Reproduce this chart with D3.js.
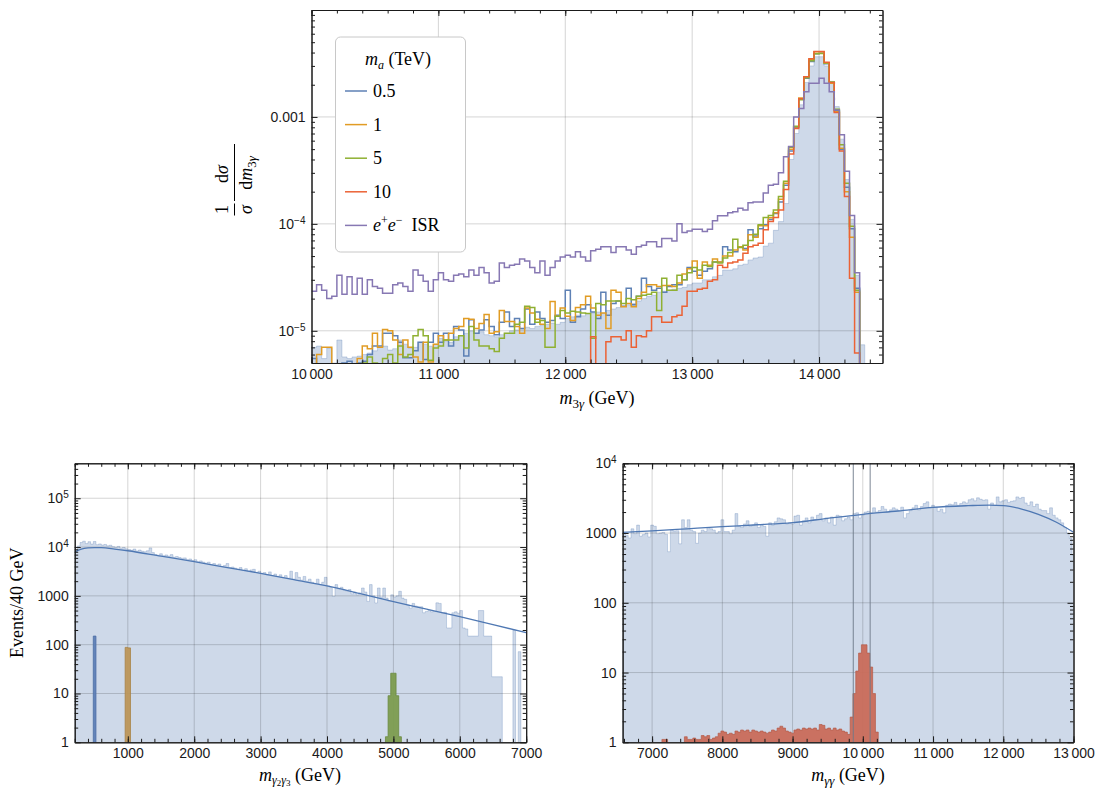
<!DOCTYPE html>
<html>
<head>
<meta charset="utf-8">
<script src="https://cdn.jsdelivr.net/npm/d3@7"></script>
<style>
  body { margin: 0; background: #fff; }
  text { font-family: "Liberation Sans", Arial, sans-serif; }
  .serif text, text.serif { font-family: "Liberation Serif", "Times New Roman", serif; }
</style>
</head>
<body>
<svg id="chart" width="1096" height="789"></svg>
<script>
// ---------- top panel: 1/sigma dsigma/dm_3gamma, 40 GeV bins starting at 10 TeV ----------
// values are in units of 1e-5 per GeV, 0 = empty bin
const topBinStart = 10000
const topBinWidth = 40
const topUnit = 1e-5
const topBackground = [
  0.7, 0.72, 0.55, 0.69, 0.5, 0.82, 0.57, 0.55, 0.57, 0.58,
  0.6, 0.62, 0.65, 0.7, 0.72, 0.66, 0.68, 0.82, 0.75, 0.69,
  0.7, 0.78, 0.75, 0.72, 0.75, 0.85, 0.8, 0.78, 0.88, 0.9,
  0.95, 1.0, 0.95, 0.98, 0.92, 0.9, 0.88, 0.92, 0.95, 1.0,
  1.02, 1.05, 1.08, 1.05, 1.1, 1.12, 1.15, 1.18, 1.15, 1.2,
  1.3, 1.35, 1.4, 1.38, 1.45, 1.47, 1.5, 1.45, 1.55, 1.6,
  1.65, 1.7, 1.75, 1.8, 1.9, 2.0, 2.1, 2.15, 2.3, 2.35,
  2.4, 2.45, 2.5, 2.55, 2.7, 2.8, 2.8, 3.0, 3.0, 3.2,
  3.3, 3.7, 3.7, 3.8, 4.1, 4.2, 4.6, 4.8, 4.9, 6.2,
  6.6, 8.7, 10.5, 15.5, 40, 70, 130, 210, 300, 366,
  366, 300, 215, 125, 62, 26, 11, 3.3, 0.74
]
const topM05 = [
  0.55, 0, 0, 0, 0, 0, 0.5, 0.52, 0.45, 0.5,
  0.52, 0.6, 0.72, 0.72, 0.95, 0.95, 0.9, 0.78, 0.56, 0.56,
  0.65, 0.78, 0.54, 0.78, 0.95, 0.78, 0.95, 0.72, 1.1, 1.02,
  0.58, 1.27, 0.95, 1.02, 1.27, 1.1, 0.92, 1.2, 1.5, 1.1,
  1.3, 1.05, 1.6, 1.15, 1.5, 1.3, 1.2, 1.25, 1.4, 1.3,
  2.4, 1.2, 1.35, 1.6, 1.75, 1.5, 1.3, 2.3, 1.4, 1.8,
  1.9, 1.7, 2.5, 1.75, 2.1, 3.1, 2.6, 2.4, 2.5, 2.3,
  2.6, 2.7, 2.7, 3.0, 3.9, 3.6, 3.3, 3.6, 3.8, 4.4,
  4.4, 6.1, 5.7, 5.5, 6.1, 5.9, 8.8, 7.7, 9.0, 9.8,
  11.0, 12.5, 16, 23, 48, 80, 148, 230, 330, 390,
  395, 315, 210, 115, 50, 22, 9, 2.5, 0
]
const topM1 = [
  0, 0.6, 0.7, 0.7, 0, 0, 0, 0, 0, 0.55,
  0.72, 0.68, 0.95, 0.7, 1.03, 1.0, 0.82, 0.6, 0.82, 0.7,
  0.57, 0.51, 0.78, 0.51, 0.75, 0.9, 0.82, 0.95, 1.05, 1.1,
  1.3, 1.28, 1.05, 1.17, 1.42, 0.95, 0.98, 1.55, 1.22, 1.22,
  1.1, 0.95, 1.63, 1.47, 1.28, 1.15, 1.05, 1.88, 1.37, 1.63,
  1.37, 1.25, 1.65, 1.75, 2.1, 1.63, 1.4, 1.47, 1.05, 2.4,
  2.3, 1.68, 1.8, 1.68, 2.0, 2.3, 2.7, 2.7, 2.6, 2.65,
  2.65, 2.6, 2.8, 3.4, 3.8, 4.5, 3.1, 4.4, 4.1, 4.7,
  4.4, 5.0, 5.0, 5.7, 6.1, 5.7, 7.9, 7.5, 9.6, 9.6,
  11.4, 12.7, 17, 24, 50, 81, 150, 238, 346, 407,
  407, 318, 206, 112, 51, 20, 7.5, 2.3, 0
]
const topM5 = [
  0, 0, 0, 0, 0, 0, 0, 0, 0, 0.45,
  0.5, 0.57, 0.5, 0.45, 0.55, 0.6, 0.5, 0.72, 0.57, 0.6,
  0.9, 1.03, 0.9, 0.53, 0.69, 0.72, 0.82, 0.82, 0.82, 0.9,
  0.69, 1.1, 0.82, 0.72, 0.72, 0.68, 0.64, 0.85, 0.95, 0.95,
  1.15, 1.2, 1.7, 1.65, 1.2, 1.25, 0.7, 0.7, 1.37, 1.55,
  1.47, 1.52, 1.5, 1.47, 1.45, 0.85, 1.8, 1.75, 1.9, 1.9,
  1.9, 1.8, 2.0, 1.95, 2.1, 2.15, 2.2, 2.3, 1.55, 3.1,
  2.4, 2.4, 3.3, 3.0, 3.5, 3.9, 3.7, 4.1, 4.0, 4.4,
  4.3, 4.8, 5.4, 7.2, 6.0, 6.3, 7.0, 8.0, 9.8, 11.5,
  12.0, 13.5, 18, 25, 52, 82, 145, 232, 335, 390,
  392, 320, 212, 118, 55, 24, 9.5, 2.4, 0
]
// m_a = 10 TeV is empty below 12.16 TeV
const topM10Start = 12160
const topM10 = [
  0, 0.88, 0, 0, 0.79, 0.88,
  0.88, 0.82, 1.0, 0.7, 0.9, 0.88, 1.0, 1.35, 1.35, 1.2,
  1.2, 1.35, 1.4, 1.7, 2.35, 2.35, 2.45, 2.5, 2.9, 3.0,
  4.1, 3.9, 4.3, 4.4, 4.6, 5.3, 6.1, 6.3, 6.6, 8.8,
  10.5, 11.5, 13.5, 21, 45, 78, 148, 238, 350, 410,
  410, 325, 210, 110, 48, 18, 3.1, 0.62, 0
]
const topISR = [
  2.35, 2.7, 2.4, 2.0, 2.1, 3.3, 2.2, 3.2, 2.2, 3.1,
  2.2, 3.0, 2.6, 2.5, 2.25, 2.25, 2.7, 2.8, 2.6, 2.35,
  3.7, 3.3, 2.9, 2.35, 3.0, 3.5, 3.0, 2.9, 3.3, 3.4,
  3.2, 3.7, 3.3, 3.9, 3.5, 2.8, 2.9, 4.3, 3.9, 4.1,
  4.2, 4.7, 4.5, 3.9, 3.5, 4.5, 3.3, 3.9, 4.5, 4.9,
  5.1, 4.9, 5.5, 4.9, 4.5, 5.6, 5.8, 6.1, 6.1, 5.4,
  6.1, 6.1, 5.7, 5.2, 6.1, 6.3, 6.8, 6.8, 6.1, 7.3,
  7.3, 6.9, 10.0, 8.3, 8.6, 8.9, 8.9, 8.5, 8.9, 10.7,
  11.9, 11.9, 12.7, 13.0, 14.0, 13.5, 15.8, 16.0, 16.0, 19.4,
  23, 23.5, 30, 42.5, 53, 100, 120, 172, 206, 206,
  230, 206, 172, 116, 68, 31, 12, 3.5, 0
]
const seriesColors = ['#5E81B5', '#E19C24', '#8FB032', '#EB6235', '#8778B3']
const legendLabels = ['0.5', '1', '5', '10', 'ISR']

// ---------- bottom left: m_{γ2γ3}, events / 40 GeV from 200 GeV ----------
const blBinStart = 200
const blBinWidth = 40
const blBackground = [
  8000, 10500, 12400, 13200, 11800, 12900, 11500, 13000, 11200, 11600,
  11000, 11300, 10600, 10900, 10200, 9900, 10300, 9500, 9800, 9200,
  8900, 8600, 9100, 8300, 8700, 8200, 8000, 8400, 9600, 7700,
  7000, 6800, 7300, 6600, 6900, 6500, 7000, 6200, 6400, 6100,
  5900, 6000, 5500, 5700, 5300, 5500, 5000, 5200, 4900, 4700,
  4900, 4400, 4600, 4300, 4500, 4000, 4200, 4600, 3800, 3900,
  3700, 3500, 3800, 3300, 3600, 3200, 3400, 3500, 3000, 3200,
  2900, 3000, 2700, 3100, 2600, 2800, 2500, 2700, 2400, 2600,
  2300, 3200, 2200, 3000, 2400, 2100, 2500, 2000, 2200, 1900,
  1800, 2200, 1700, 1900, 2400, 1600, 1500, 980, 1700, 1400,
  1500, 1300, 1250, 1350, 1100, 1200, 1050, 1150, 1450, 1200,
  770, 1700, 1000, 715, 1450, 950, 1450, 900, 770, 1050,
  950, 1000, 1240, 900, 850, 650, 560, 700, 620, 600,
  600, 450, 480, 500, 470, 480, 720, 700, 450, 460,
  220, 220, 450, 470, 440, 500, 220, 210, 150, 150,
  150, 150, 500, 500, 150, 150, 150, 22, 22, 22,
  22, 0, 0, 0, 0, 200, 0, 72, 0, 0
]
const blFit = [
  [200, 8000], [300, 9100], [400, 9600], [500, 9750], [600, 9700], [800, 9100],
  [1000, 8400], [1500, 6500], [2000, 5020], [2500, 3800], [3000, 2900], [3500, 2150],
  [4000, 1600], [4500, 1110], [5000, 760], [5500, 535], [6000, 375], [6500, 258], [7000, 176]
]
const blSig05Start = 480, blSig05 = [150]
const blSig1Start = 960, blSig1 = [88, 86]
const blSig5Start = 4880, blSig5 = [1.3, 9, 26, 26, 9, 1.3]

// ---------- bottom right: m_{γγ}, 40 GeV bins from 6580 GeV ----------
const brBinStart = 6580
const brBinWidth = 40
const brBackground = [
  1000, 920, 850, 1150, 980, 1300, 900, 950, 1000, 880,
  1300, 1250, 980, 1000, 1020, 960, 540, 1100, 1070, 1080,
  700, 1550, 1200, 1550, 1100, 1050, 713, 1000, 1100, 1050,
  1200, 1150, 1100, 1000, 1050, 1550, 1050, 1050, 980, 1100,
  1900, 1250, 1200, 1350, 1500, 1250, 1300, 1400, 1200, 1300,
  1250, 900, 1400, 1300, 1450, 1650, 1600, 1550, 1350, 1400,
  1350, 1750, 1800, 1300, 1500, 1650, 1400, 1700, 1550, 1800,
  1900, 1500, 1650, 1400, 1700, 1300, 1800, 1750, 1500, 1600,
  1700, 1550, 1900, 1950, 1650, 1800, 2000, 2050, 1950, 2300,
  2000, 2100, 2400, 2200, 2000, 2150, 2300, 2200, 2100, 2350,
  1650, 1900, 2100, 2300, 2500, 2150, 2400, 2650, 2800, 2300,
  2500, 2350, 2050, 2200, 1950, 2500, 2600, 2550, 2750, 2500,
  2650, 2800, 2700, 3000, 3100, 2900, 3200, 3050, 2950, 3000,
  2200, 2700, 2500, 3300, 2800, 2900, 3000, 2750, 2850, 2900,
  3300, 3150, 3250, 2700, 2500, 2800, 2400, 2600, 2200, 2100,
  2100, 1900, 2300, 1800, 1650, 1550, 1400, 1200, 1000, 840,
  480
]
const brFit = [
  [6580, 1025], [7000, 1072], [7500, 1150], [8000, 1234], [8500, 1315], [9000, 1410],
  [9500, 1625], [10000, 1855], [10500, 2070], [11000, 2335], [11500, 2470], [11800, 2520],
  [12000, 2480], [12250, 2230], [12500, 1855], [12750, 1440], [13000, 1025]
]
const brSigStart = 7140
const brSig10 = [
  1.1, 1.1, 0, 0, 0, 0, 0, 0, 1.2, 1.1,
  1.1, 1.15, 1.1, 1.1, 1.25, 1.2, 1.25, 1.1, 1.15, 1.2,
  1.35, 1.45, 1.4, 1.3, 1.35, 1.3, 1.45, 1.4, 1.5, 1.45,
  1.5, 1.4, 1.5, 1.45, 1.4, 1.45, 1.4, 1.35, 1.4, 1.5,
  1.45, 1.6, 1.7, 1.6, 1.45, 1.4, 1.35, 1.5, 1.55, 1.5,
  1.6, 1.55, 1.6, 1.55, 1.6, 1.5, 1.8, 1.75, 1.55, 1.6,
  1.5, 1.6, 1.5, 1.55, 1.45, 1.4, 1.3, 2.3, 5.0, 10.5,
  19, 25, 25, 19, 12, 5, 1.4
]
const brWindow = [9865, 10105]

// ---------------------------------------------------------------------------
const svg = d3.select('#chart')
const defs = svg.append('defs')
const histBlue = '#5E81B5'

function panel(id, box, xDomain, yDomain) {
  const x = d3.scaleLinear().domain(xDomain).range([box.left, box.right])
  const y = d3.scaleLog().domain(yDomain).range([box.bottom, box.top])
  defs.append('clipPath').attr('id', id).append('rect')
    .attr('x', box.left).attr('y', box.top)
    .attr('width', box.right - box.left).attr('height', box.bottom - box.top)
  const g = svg.append('g')
  const back = g.append('g').attr('clip-path', `url(#${id})`)
  const grid = g.append('g')
  const plot = g.append('g').attr('clip-path', `url(#${id})`)
  const axes = g.append('g')
  return { x, y, box, back, grid, plot, axes }
}

function yPix(p, v) { return v > 0 ? p.y(v) : p.box.bottom + 6 }

function binPoints(start, width, vals, k = 1) {
  const pts = vals.map((v, i) => [start + i * width, v * k])
  pts.push([start + vals.length * width, vals[vals.length - 1] * k])
  return pts
}

function histArea(p, layer, pts, fill, fillOpacity, edge, edgeOpacity) {
  const area = d3.area().curve(d3.curveStepAfter)
    .x(d => p.x(d[0])).y0(p.box.bottom + 6).y1(d => yPix(p, d[1]))
  layer.append('path').attr('d', area(pts))
    .attr('fill', fill).attr('fill-opacity', fillOpacity)
    .attr('stroke', edge).attr('stroke-opacity', edgeOpacity).attr('stroke-width', 1)
}

function histLine(p, pts, color) {
  const line = d3.line().curve(d3.curveStepAfter)
    .x(d => p.x(d[0])).y(d => yPix(p, d[1]))
  p.plot.append('path').attr('d', line(pts))
    .attr('fill', 'none').attr('stroke', color).attr('stroke-width', 1.5)
    .attr('stroke-linejoin', 'miter')
}

function gridLines(p, xs, ys) {
  const { x, y, box } = p
  p.grid.selectAll('.gx').data(xs).join('line')
    .attr('x1', d => x(d)).attr('x2', d => x(d)).attr('y1', box.top).attr('y2', box.bottom)
  p.grid.selectAll('.gy').data(ys).join('line')
    .attr('y1', d => y(d)).attr('y2', d => y(d)).attr('x1', box.left).attr('x2', box.right)
  p.grid.selectAll('line').attr('stroke', '#000').attr('stroke-opacity', 0.17).attr('stroke-width', 1)
}

function superscripts(sel) {
  sel.selectAll('.tick text').each(function () {
    const t = d3.select(this)
    const m = t.text().match(/^10\^(.+)$/)
    if (m) {
      t.text('10')
      t.append('tspan').attr('dy', '-0.5em').attr('font-size', '10px').text(m[1])
    }
  })
}

function frame(p, xMajor, xMinor, xFmt, yMajor, yFmt) {
  const { x, y, box, axes } = p
  const yMinor = y.ticks().filter(v => Math.abs(Math.log10(v) - Math.round(Math.log10(v))) > 1e-6)
  const add = (axis, tx, ty) => axes.append('g')
    .attr('transform', `translate(${tx},${ty})`)
    .call(axis.tickSizeOuter(0))
    .attr('font-size', 14)
    .attr('font-family', '"Liberation Sans", Arial, sans-serif')
    .style('color', '#1a1a1a')
  add(d3.axisBottom(x).tickValues(xMinor).tickSize(-3.5).tickFormat(''), 0, box.bottom)
  add(d3.axisTop(x).tickValues(xMinor).tickSize(-3.5).tickFormat(''), 0, box.top)
  add(d3.axisLeft(y).tickValues(yMinor).tickSize(-3.5).tickFormat(''), box.left, 0)
  add(d3.axisRight(y).tickValues(yMinor).tickSize(-3.5).tickFormat(''), box.right, 0)
  add(d3.axisBottom(x).tickValues(xMajor).tickSize(-6).tickPadding(6).tickFormat(xFmt), 0, box.bottom)
  add(d3.axisTop(x).tickValues(xMajor).tickSize(-6).tickFormat(''), 0, box.top)
  add(d3.axisLeft(y).tickValues(yMajor).tickSize(-6).tickPadding(6).tickFormat(yFmt), box.left, 0)
    .call(superscripts)
  add(d3.axisRight(y).tickValues(yMajor).tickSize(-6).tickFormat(''), box.right, 0)
}

const groupFmt = d => d >= 10000 ? d3.format(',')(d).replace(',', '\u2009') : String(d)
const powFmt = d => d < 10000 && d >= 1 ? String(d) : '10^' + String(Math.round(Math.log10(d))).replace('-', '\u2212')

// sub-/superscript label helper: parts = [[text, {italic, size, dy}], ...]
function richText(sel, parts) {
  parts.forEach(([s, o = {}]) => {
    const t = sel.append('tspan').text(s)
    if (o.italic) t.attr('font-style', 'italic')
    if (o.size) t.attr('font-size', o.size)
    if (o.dy) t.attr('dy', o.dy)
  })
  return sel
}

// ============================== top panel ==============================
{
  const p = panel('clipTop', { left: 311.5, right: 882.5, top: 10, bottom: 363 }, [10000, 14500], [5e-6, 1e-2])
  histArea(p, p.back, binPoints(topBinStart, topBinWidth, topBackground, topUnit), histBlue, 0.3, histBlue, 0.3)
  gridLines(p, [11000, 12000, 13000, 14000], [1e-5, 1e-4, 1e-3])
  histLine(p, binPoints(topBinStart, topBinWidth, topM05, topUnit), seriesColors[0])
  histLine(p, binPoints(topBinStart, topBinWidth, topM1, topUnit), seriesColors[1])
  histLine(p, binPoints(topBinStart, topBinWidth, topM5, topUnit), seriesColors[2])
  histLine(p, binPoints(topM10Start, topBinWidth, topM10, topUnit), seriesColors[3])
  histLine(p, binPoints(topBinStart, topBinWidth, topISR, topUnit), seriesColors[4])
  frame(p, [10000, 11000, 12000, 13000, 14000], d3.range(10000, 14501, 200), groupFmt,
    [1e-5, 1e-4, 1e-3], d => d === 1e-3 ? '0.001' : powFmt(d))

  // legend
  const lg = svg.append('g').attr('class', 'serif').attr('font-size', 18)
  lg.append('rect').attr('x', 335.5).attr('y', 37).attr('width', 130).attr('height', 215)
    .attr('rx', 5).attr('fill', '#fff').attr('stroke', '#c8c8c8')
  richText(lg.append('text').attr('x', 398).attr('y', 65).attr('text-anchor', 'middle'),
    [['m', { italic: true }], ['a', { italic: true, size: 12, dy: 4 }], [' (TeV)', { dy: -4 }]])
  legendLabels.forEach((lab, i) => {
    const ly = 91 + i * 33.6
    lg.append('line').attr('x1', 345).attr('x2', 367).attr('y1', ly).attr('y2', ly)
      .attr('stroke', seriesColors[i]).attr('stroke-width', 1.5)
    const t = lg.append('text').attr('x', 373).attr('y', ly + 6)
    if (lab === 'ISR') {
      richText(t, [['e', { italic: true }], ['+', { size: 12, dy: -7 }], ['e', { italic: true, dy: 7 }],
        ['\u2212', { size: 12, dy: -7 }], ['\u2002ISR', { dy: 7 }]])
    } else t.text(lab)
  })

  // axis titles
  richText(svg.append('text').attr('class', 'serif').attr('font-size', 18)
    .attr('x', 597).attr('y', 404).attr('text-anchor', 'middle'),
    [['m', { italic: true }], ['3', { size: 13, dy: 4 }], ['γ', { size: 13, italic: true }], [' (GeV)', { dy: -4 }]])

  const yl = svg.append('g').attr('class', 'serif').attr('font-size', 18)
    .attr('transform', 'translate(234,180) rotate(-90)')
  yl.append('text').attr('x', -29.5).attr('y', -6).attr('text-anchor', 'middle').text('1')
  yl.append('text').attr('x', -29.5).attr('y', 18).attr('text-anchor', 'middle').attr('font-style', 'italic').text('σ')
  yl.append('line').attr('x1', -35.5).attr('x2', -23.5).attr('y1', 0.5).attr('y2', 0.5).attr('stroke', '#000')
  richText(yl.append('text').attr('x', 6).attr('y', -6).attr('text-anchor', 'middle'),
    [['d'], ['σ', { italic: true }]])
  richText(yl.append('text').attr('x', 7).attr('y', 18).attr('text-anchor', 'middle'),
    [['d'], ['m', { italic: true }], ['3', { size: 13, dy: 4 }], ['γ', { size: 13, italic: true }]])
  yl.append('line').attr('x1', -21).attr('x2', 36).attr('y1', 0.5).attr('y2', 0.5).attr('stroke', '#000')
}

// ============================== bottom left ==============================
{
  const p = panel('clipBL', { left: 74.7, right: 526.2, top: 463.3, bottom: 742.3 }, [200, 7000], [1, 5.2e5])
  histArea(p, p.back, binPoints(blBinStart, blBinWidth, blBackground), histBlue, 0.3, histBlue, 0.3)
  gridLines(p, [1000, 2000, 3000, 4000, 5000, 6000], [10, 100, 1000, 1e4, 1e5])
  histArea(p, p.plot, binPoints(blSig05Start, blBinWidth, blSig05), '#5d7fb7', 0.95, '#4d6ea5', 0.8)
  histArea(p, p.plot, binPoints(blSig1Start, blBinWidth, blSig1), '#bd9658', 0.95, '#a88245', 0.8)
  histArea(p, p.plot, binPoints(blSig5Start, blBinWidth, blSig5), '#7c9c4f', 0.95, '#6a8a40', 0.8)
  p.plot.append('path')
    .attr('d', d3.line().curve(d3.curveMonotoneX).x(d => p.x(d[0])).y(d => p.y(d[1]))(blFit))
    .attr('fill', 'none').attr('stroke', '#4f78b3').attr('stroke-width', 1.3)
  frame(p, [1000, 2000, 3000, 4000, 5000, 6000, 7000], d3.range(200, 7001, 200), d => String(d),
    [1, 10, 100, 1000, 1e4, 1e5], powFmt)

  richText(svg.append('text').attr('class', 'serif').attr('font-size', 18)
    .attr('x', 300).attr('y', 781).attr('text-anchor', 'middle'),
    [['m', { italic: true }], ['γ', { size: 12, italic: true, dy: 3 }], ['2', { size: 9, dy: 2 }],
     ['γ', { size: 12, italic: true, dy: -2 }], ['3', { size: 9, dy: 2 }], [' (GeV)', { dy: -5 }]])
  svg.append('text').attr('class', 'serif').attr('font-size', 18).attr('text-anchor', 'middle')
    .attr('transform', 'translate(23,602.8) rotate(-90)').text('Events/40 GeV')
}

// ============================== bottom right ==============================
{
  const p = panel('clipBR', { left: 622.6, right: 1073.5, top: 463.3, bottom: 742.3 }, [6580, 13000], [1, 1e4])
  histArea(p, p.back, binPoints(brBinStart, brBinWidth, brBackground), histBlue, 0.3, histBlue, 0.3)
  gridLines(p, [7000, 8000, 9000, 10000, 11000, 12000], [10, 100, 1000])
  histArea(p, p.plot, binPoints(brSigStart, brBinWidth, brSig10), '#c96c5a', 0.95, '#b35b4a', 0.7)
  p.plot.selectAll('.win').data(brWindow).join('line')
    .attr('x1', d => p.x(d)).attr('x2', d => p.x(d)).attr('y1', p.box.top).attr('y2', p.box.bottom)
    .attr('stroke', '#6e7888').attr('stroke-opacity', 0.75).attr('stroke-width', 1.2)
  p.plot.append('path')
    .attr('d', d3.line().curve(d3.curveMonotoneX).x(d => p.x(d[0])).y(d => p.y(d[1]))(brFit))
    .attr('fill', 'none').attr('stroke', '#4f78b3').attr('stroke-width', 1.3)
  frame(p, [7000, 8000, 9000, 10000, 11000, 12000, 13000], d3.range(6600, 13001, 200), groupFmt,
    [1, 10, 100, 1000, 1e4], powFmt)

  richText(svg.append('text').attr('class', 'serif').attr('font-size', 18)
    .attr('x', 848).attr('y', 781).attr('text-anchor', 'middle'),
    [['m', { italic: true }], ['γγ', { size: 13, italic: true, dy: 4 }], [' (GeV)', { dy: -4 }]])
}
</script>
</body>
</html>
